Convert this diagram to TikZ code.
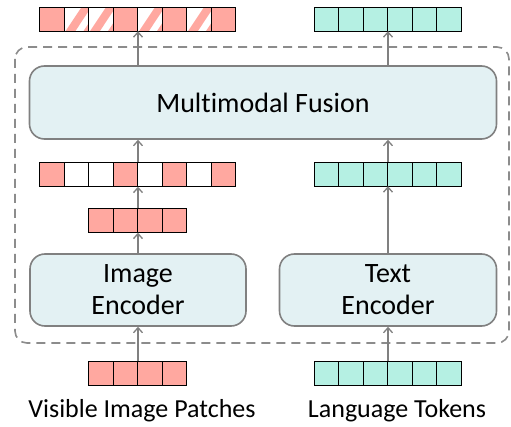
\documentclass[tikz,border=0pt]{standalone}
\usepackage{fontspec}
\setmainfont[Ligatures=NoCommon]{Carlito}
\usetikzlibrary{arrows.meta,calc}
\definecolor{pinkc}{HTML}{FFA8A0}
\definecolor{tealc}{HTML}{B5F0E3}
\definecolor{boxfill}{HTML}{E3F1F3}
\definecolor{boxline}{HTML}{808080}
\definecolor{dashc}{HTML}{8C8C8C}
\tikzset{
  rowbox/.style={inner sep=0pt, minimum height=24pt},
  cellp/.style={draw=black, line width=1.2pt, fill=pinkc},
  cellw/.style={draw=black, line width=1.2pt, fill=white},
  cellt/.style={draw=black, line width=1.2pt, fill=tealc},
  cellh/.style={draw=black, line width=1.2pt, fill=white,
    path picture={\begin{scope}[shift={(path picture bounding box.south west)}, x=24.5pt, y=24pt]
      \fill[pinkc] (0.05,0) -- (0.45,0) -- (1,0.85) -- (1,1) -- (0.7,1) -- cycle;
      \fill[pinkc] (0.78,0) -- (1,0) -- (1,0.34) -- cycle;
    \end{scope}}},
  encbox/.style={draw=boxline, line width=1.6pt, fill=boxfill, rounded corners=15pt,
    align=center, font=\fontsize{28}{32}\selectfont, inner sep=0pt},
  frame/.style={draw=dashc, line width=1.6pt, dash pattern=on 9pt off 6pt, rounded corners=12pt},
  flow/.style={draw=boxline, line width=1.3pt, -{Straight Barb[length=5pt,width=9pt,line width=1.3pt]}},
  caption/.style={font=\fontsize{26}{30}\selectfont, inner sep=0pt}
}
\newcommand\tokrow[4]{%
  \node[rowbox, minimum width=#3*24.5pt] (#1) at (#2) {};
  \foreach \c [count=\i from 0] in {#4} {
    \path[\c] ($(#1.south west)+(\i*24.5pt,0)$) rectangle ++(24.5pt,24pt);
  }%
}
\begin{document}
\begin{tikzpicture}[x=1pt,y=-1pt]
\useasboundingbox[fill=white] (0,0) rectangle (511,427);
% dashed frame
\draw[frame] (15,47) rectangle (509,343);
% boxes
\node[encbox, minimum width=467pt, minimum height=73pt] (fusion) at (263,102.5) {Multimodal Fusion};
\node[encbox, minimum width=216pt, minimum height=72pt] (imgenc) at (138,290) {Image\\Encoder};
\node[encbox, minimum width=217pt, minimum height=72pt] (txtenc) at (388,290) {Text\\Encoder};
% token rows
\tokrow{imgtop}{138,19}{8}{cellp,cellh,cellh,cellp,cellh,cellp,cellh,cellp}
\tokrow{imgmid}{138,174.5}{8}{cellp,cellw,cellw,cellp,cellw,cellp,cellw,cellp}
\tokrow{imgvis}{138,220.5}{4}{cellp,cellp,cellp,cellp}
\tokrow{imgin}{138,373.5}{4}{cellp,cellp,cellp,cellp}
\tokrow{txttop}{388,19}{6}{cellt,cellt,cellt,cellt,cellt,cellt}
\tokrow{txtmid}{388,174}{6}{cellt,cellt,cellt,cellt,cellt,cellt}
\tokrow{txtin}{388,373.5}{6}{cellt,cellt,cellt,cellt,cellt,cellt}
% captions
\node[caption] (capimg) at (142,411) {Visible Image Patches};
\node[caption] (captxt) at (397,411) {Language Tokens};
% arrows
\draw[flow] (imgin.north) -- (imgenc.south);
\draw[flow] (imgenc.north) -- (imgvis.south);
\draw[flow] (imgvis.north) -- (imgmid.south);
\draw[flow] (imgmid.north) -- (imgmid.north |- fusion.south);
\draw[flow] (imgtop.south |- fusion.north) -- (imgtop.south);
\draw[flow] (txtin.north) -- (txtenc.south);
\draw[flow] (txtenc.north) -- (txtmid.south);
\draw[flow] (txtmid.north) -- (txtmid.north |- fusion.south);
\draw[flow] (txttop.south |- fusion.north) -- (txttop.south);
\end{tikzpicture}
\end{document}
